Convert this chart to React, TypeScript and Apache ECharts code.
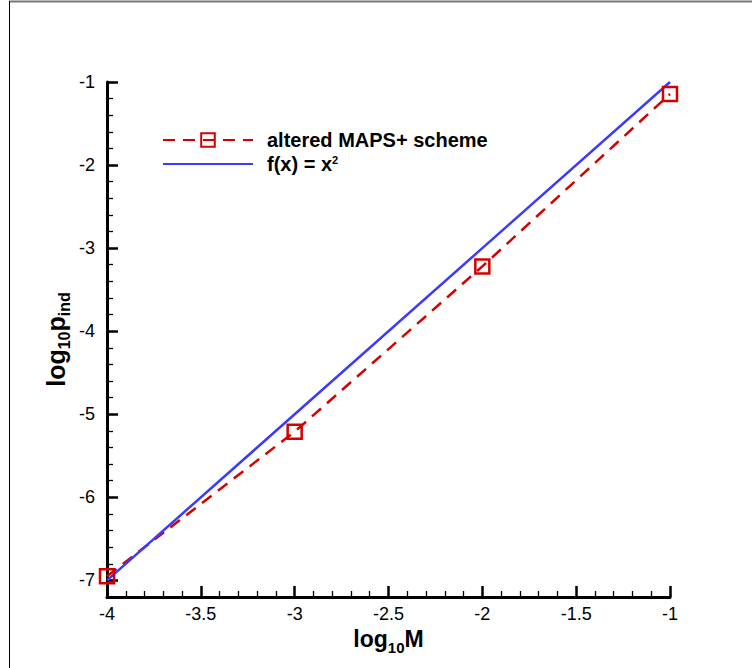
import React, { useEffect, useRef } from "react";
import * as echarts from "echarts";

const xValues = [-4, -3, -2, -1];
const schemeValues = [-6.95, -5.21, -3.22, -1.145];
const refValues = [-7, -5, -3, -1];
const seriesNames = ["altered MAPS+ scheme", "f(x) = x^2"];

const FONT = "'Liberation Sans', Arial, Helvetica, sans-serif";
const RED = "#d40000";
const BLUE = "#3b3bff";

export default function App() {
  const ref = useRef<HTMLDivElement>(null);
  useEffect(() => {
    document.body.style.margin = "0";
    const chart = echarts.init(ref.current!, undefined, { renderer: "svg" });
    const mkRich = (big: number, small: number, line: number) => ({
      b: { fontFamily: FONT, fontWeight: "bold", fontSize: big, color: "#000", lineHeight: big + 3, verticalAlign: "top" },
      s: { fontFamily: FONT, fontWeight: "bold", fontSize: small, color: "#000", lineHeight: line, verticalAlign: "bottom" },
    });
    const legendRich = {
      b: { fontFamily: FONT, fontWeight: "bold", fontSize: 20, color: "#000", lineHeight: 20, verticalAlign: "top" },
      sup: { fontFamily: FONT, fontWeight: "bold", fontSize: 11, color: "#000", lineHeight: 6, verticalAlign: "top" },
    };
    const option: any = {
      animation: false,
      backgroundColor: "#fff",
      grid: [
        { left: 107, right: 82, top: 82, bottom: 71 },
        { left: 107, right: 82, top: 82, bottom: 87.6 },
      ],
      legend: {
        orient: "vertical",
        left: 162,
        top: 130,
        padding: 0,
        itemWidth: 90,
        itemHeight: 17,
        itemGap: 4,
        data: [
          { name: seriesNames[0] },
          { name: seriesNames[1], itemStyle: { opacity: 0 } },
        ],
        formatter: (n: string) =>
          n === seriesNames[1] ? "{b|f(x) = x}{sup|2}" : "{b|" + n + "}",
        textStyle: { fontFamily: FONT, fontWeight: "bold", fontSize: 20, color: "#000", padding: [0, 0, 0, 9], rich: legendRich },
      },
      xAxis: [
        {
          type: "value",
          gridIndex: 0,
          min: -4,
          max: -1,
          interval: 0.5,
          name: "{b|log}{s|10}{b|M}",
          nameLocation: "middle",
          nameGap: 26,
          nameTextStyle: { rich: mkRich(23, 15, 27) },
          axisLine: { show: true, lineStyle: { color: "#000", width: 3 } },
          axisTick: { show: true, inside: true, length: 11, lineStyle: { color: "#000", width: 2.5 } },
          minorTick: { show: true, splitNumber: 5, length: 6, lineStyle: { color: "#000", width: 1.3 } },
          splitLine: { show: false },
          axisLabel: { fontFamily: FONT, fontSize: 18, color: "#000", margin: 8 },
        },
        { type: "value", gridIndex: 1, min: -4, max: -1, show: false },
      ],
      yAxis: [
        {
          type: "value",
          gridIndex: 0,
          min: -7.2,
          max: -1,
          interval: 0.2,
          name: "{b|log}{s|10}{b|p}{s|ind}",
          nameLocation: "middle",
          nameRotate: 90,
          nameGap: 35,
          nameTextStyle: { rich: mkRich(25, 16, 29) },
          axisLine: { show: true, lineStyle: { color: "#000", width: 3 } },
          axisTick: { show: true, inside: true, length: 6, lineStyle: { color: "#000", width: 1.3 } },
          axisLabel: { show: false },
          splitLine: { show: false },
        },
        {
          type: "value",
          gridIndex: 1,
          min: -7,
          max: -1,
          interval: 1,
          axisLine: { show: false },
          axisTick: { show: true, inside: true, length: 11, lineStyle: { color: "#000", width: 2.5 } },
          axisLabel: { fontFamily: FONT, fontSize: 18, color: "#000", margin: 12 },
          splitLine: { show: false },
        },
      ],
      graphic: [
        { type: "line", shape: { x1: 9, y1: 1.5, x2: 752, y2: 1.5 }, style: { stroke: "#777", lineWidth: 2 } },
        { type: "line", shape: { x1: 9.5, y1: 1, x2: 9.5, y2: 668 }, style: { stroke: "#000", lineWidth: 1 } },
      ],
      series: [
        {
          name: seriesNames[0],
          type: "line",
          xAxisIndex: 0,
          yAxisIndex: 0,
          data: xValues.map((x, i) => [x, schemeValues[i]]),
          symbol: "rect",
          symbolSize: 14,
          clip: false,
          itemStyle: { color: "rgba(0,0,0,0)", borderColor: RED, borderWidth: 2.5 },
          lineStyle: { color: RED, width: 2.5, type: [12, 8] },
        },
        {
          name: seriesNames[1],
          type: "line",
          xAxisIndex: 0,
          yAxisIndex: 0,
          data: xValues.map((x, i) => [x, refValues[i]]),
          symbol: "none",
          itemStyle: { color: BLUE },
          lineStyle: { color: BLUE, width: 2.5 },
        },
      ],
    };
    chart.setOption(option);
    return () => chart.dispose();
  }, []);
  return <div ref={ref} style={{ width: 752, height: 668 }} />;
}
